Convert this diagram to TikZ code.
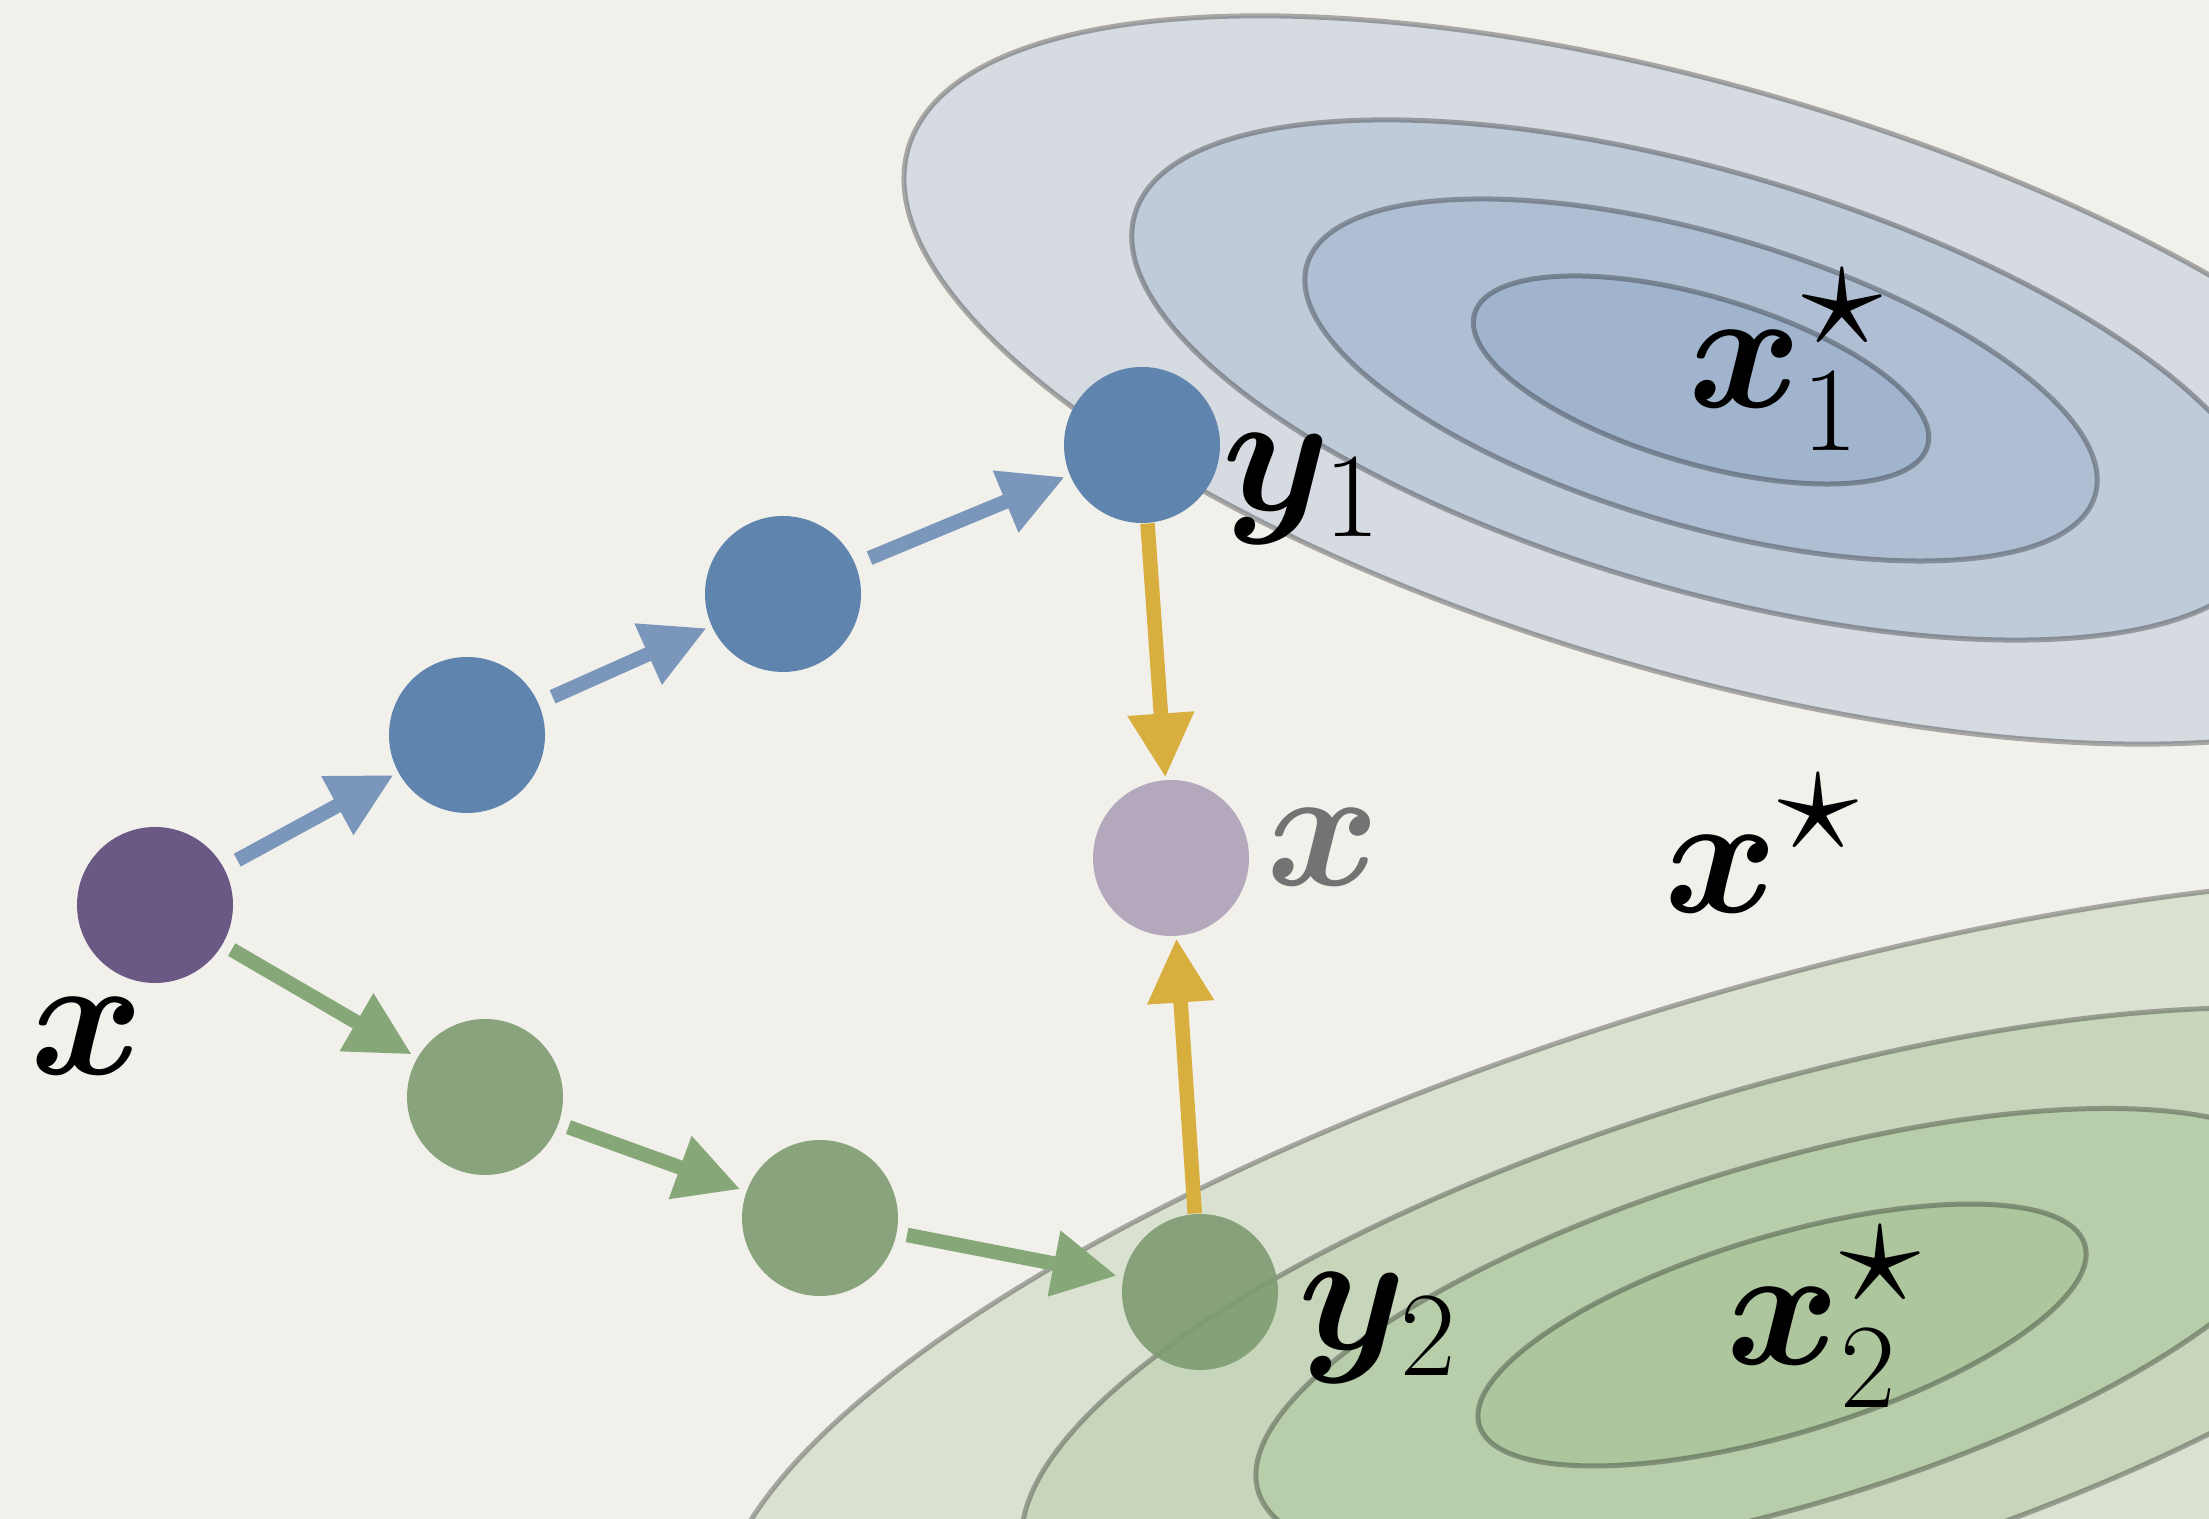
\RequirePackage{fix-cm}
\documentclass[tikz,border=0pt]{standalone}
\usepackage{amsmath,bm}
\usetikzlibrary{arrows.meta}
\definecolor{paper}{HTML}{F2F0EB}
\definecolor{nodx}{HTML}{6A5985}
\definecolor{nodb}{HTML}{5F85AE}
\definecolor{nodg}{HTML}{7E9C71}
\definecolor{nodr}{HTML}{B3A8BC}
\definecolor{arrb}{HTML}{7A97BB}
\definecolor{arrg}{HTML}{86A878}
\definecolor{arry}{HTML}{D8AE3E}
\definecolor{levb}{HTML}{7394C0}
\definecolor{levg}{HTML}{86B071}
\newcommand{\opt}{\scalebox{1.35}{$\scriptstyle\star$}}
\tikzset{
  pt/.style={circle, minimum size=1.56cm, inner sep=0pt},
  tip/.style={-{Triangle[length=0.64cm,width=0.63cm]}, line width=0.145cm},
  moveb/.style={tip, arrb, shorten <=0.15cm, shorten >=0.05cm},
  moveg/.style={tip, arrg, shorten <=0.1cm, shorten >=0.06cm},
  proj/.style={tip, arry, shorten >=0.02cm},
  lev/.style={line width=0.05cm, draw=black, draw opacity=0.3, fill opacity=0.22},
  lbl/.style={inner sep=0pt, anchor=base west, font=\fontsize{49}{58}\selectfont},
}

\begin{document}
\begin{tikzpicture}
 \useasboundingbox (0,0) rectangle (22.09,15.19);
 \fill[paper] (0,0) rectangle (22.09,15.19);
 % level sets
 \begin{scope}
  \clip (0,0) rectangle (22.09,15.19);
  \foreach \k in {3.5,2.5,1.74,1}
   \filldraw[lev, fill=levb, rotate around={-16.3:(17.01,11.39)}]
    (17.01,11.39) ellipse [x radius={2.36*\k}, y radius={0.836*\k}];
  \foreach \k in {3.5,2.5,1.73,1}
   \filldraw[lev, fill=levg, rotate around={16.6:(17.82,1.84)}]
    (17.82,1.84) ellipse [x radius={3.16*\k}, y radius={0.99*\k}];
 \end{scope}
 % iterates
 \node[pt, fill=nodx] (x0) at (1.55,6.14) {};
 \node[pt, fill=nodb] (b1) at (4.67,7.84) {};
 \node[pt, fill=nodb] (b2) at (7.83,9.25) {};
 \node[pt, fill=nodb] (y1) at (11.42,10.74) {};
 \node[pt, fill=nodg, fill opacity=0.9] (g1) at (4.85,4.22) {};
 \node[pt, fill=nodg, fill opacity=0.9] (g2) at (8.20,3.01) {};
 \node[pt, fill=nodg, fill opacity=0.9] (y2) at (12.00,2.27) {};
 \node[pt, fill=nodr] (xr) at (11.71,6.61) {};
 \draw[moveb] (x0) -- (b1);
 \draw[moveb] (b1) -- (b2);
 \draw[moveb] (b2) -- (y1);
 \draw[moveg] (x0) -- (g1);
 \draw[moveg] (g1) -- (g2);
 \draw[moveg] (g2) -- (y2);
 \draw[proj] (y1) -- (xr);
 \draw[proj] (y2) -- (xr);
 % labels
 \node[lbl] (lx) at (0.3,4.44) {$\bm{x}$};
 \node[lbl] (ly1) at (12.22,10.08) {$\bm{y}_1$};
 \node[lbl] (ly2) at (12.98,1.69) {$\bm{y}_2$};
 \node[lbl, black!55] (lxr) at (12.66,6.33) {$\bm{x}$};
 \node[lbl] (lxs) at (16.64,6.06) {$\bm{x}^{\opt}$};
 \node[lbl] (lx1) at (16.88,11.11) {$\bm{x}_1^{\opt}$};
 \node[lbl] (lx2) at (17.26,1.54) {$\bm{x}_2^{\opt}$};
\end{tikzpicture}
\end{document}
